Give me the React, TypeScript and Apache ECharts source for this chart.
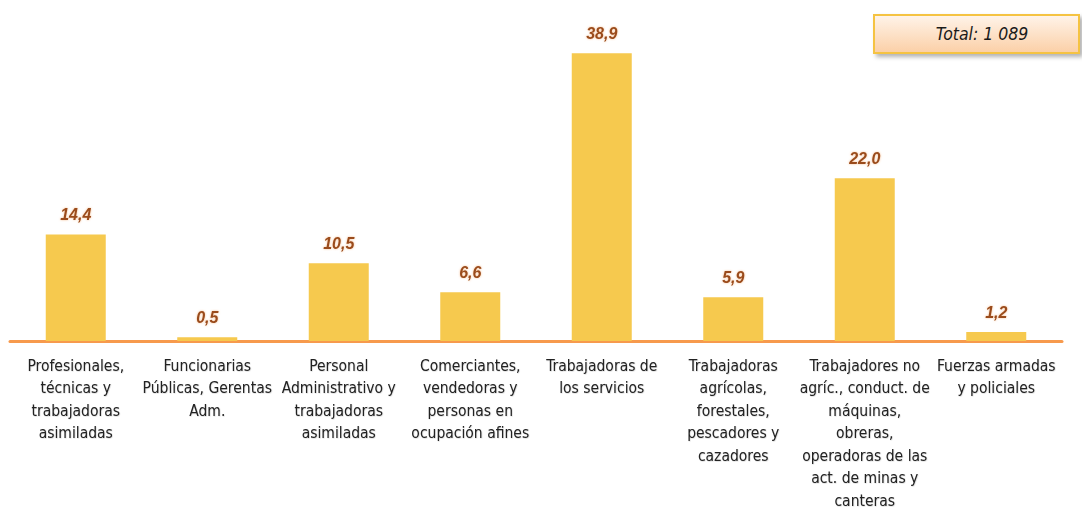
import React, { useEffect, useRef } from "react";
import * as echarts from "echarts";

const categories: string[] = [
  "Profesionales,\ntécnicas y\ntrabajadoras\nasimiladas",
  "Funcionarias\nPúblicas, Gerentas\nAdm.",
  "Personal\nAdministrativo y\ntrabajadoras\nasimiladas",
  "Comerciantes,\nvendedoras y\npersonas en\nocupación afines",
  "Trabajadoras de\nlos servicios",
  "Trabajadoras\nagrícolas,\nforestales,\npescadores y\ncazadores",
  "Trabajadores no\nagríc., conduct. de\nmáquinas,\nobreras,\noperadoras de las\nact. de minas y\ncanteras",
  "Fuerzas armadas\ny policiales",
];

const values: number[] = [14.4, 0.5, 10.5, 6.6, 38.9, 5.9, 22.0, 1.2];

const totalLabel = "Total: 1 089";

export default function App() {
  const ref = useRef<HTMLDivElement>(null);

  useEffect(() => {
    if (!ref.current) return;
    const chart = echarts.init(ref.current, null, { renderer: "svg" });
    chart.setOption({
      animation: false,
      backgroundColor: "#ffffff",
      grid: {
        left: 10,
        right: 20,
        top: 45,
        bottom: 168,
        containLabel: false,
        outerBoundsMode: "none",
      },
      xAxis: {
        type: "category",
        data: categories,
        axisLine: { show: true, lineStyle: { color: "#F79A4D", width: 3 } },
        axisTick: { show: false },
        axisLabel: {
          interval: 0,
          margin: 13.5,
          color: "#222222",
          fontFamily: "'DejaVu Sans Condensed', 'Liberation Sans', sans-serif",
          fontSize: 15.5,
          lineHeight: 22.5,
          align: "center",
          textShadowColor: "rgba(0,0,0,0.2)",
          textShadowBlur: 1,
          textShadowOffsetX: 0.5,
          textShadowOffsetY: 0.5,
        },
      },
      yAxis: {
        type: "value",
        min: 0,
        max: 40,
        show: false,
        splitLine: { show: false },
      },
      series: [
        {
          type: "bar",
          data: values,
          barWidth: 60,
          itemStyle: { color: "#F6C94E" },
          label: {
            show: true,
            position: "top",
            distance: 12,
            formatter: (p: any) => p.value.toFixed(1).replace(".", ","),
            color: "#9A4B1C",
            fontFamily: "'Liberation Sans', Arial, sans-serif",
            fontSize: 16,
            fontWeight: "bold",
            fontStyle: "italic",
            textShadowColor: "rgba(240,150,80,0.6)",
            textShadowBlur: 2,
          },
        },
      ],
      graphic: [
        {
          type: "group",
          children: [
            {
              type: "rect",
              shape: { x: 874, y: 15, width: 205, height: 38 },
              style: {
                fill: new echarts.graphic.LinearGradient(0, 0, 0, 1, [
                  { offset: 0, color: "#FFF4EA" },
                  { offset: 1, color: "#FBCFA6" },
                ]),
                stroke: "#F5C342",
                lineWidth: 2,
                shadowBlur: 4,
                shadowOffsetX: 3,
                shadowOffsetY: 3,
                shadowColor: "rgba(0,0,0,0.3)",
              },
            },
            {
              type: "text",
              x: 982,
              y: 34,
              style: {
                text: totalLabel,
                fill: "#1a1a1a",
                fontFamily: "'DejaVu Sans Condensed', 'Liberation Sans', sans-serif",
                fontSize: 17.5,
                fontStyle: "italic",
                align: "center",
                verticalAlign: "middle",
              },
            },
          ],
        },
      ],
    });
    return () => chart.dispose();
  }, []);

  return (
    <div
      ref={ref}
      style={{ position: "fixed", left: 0, top: 0, width: 1082, height: 509 }}
    />
  );
}
